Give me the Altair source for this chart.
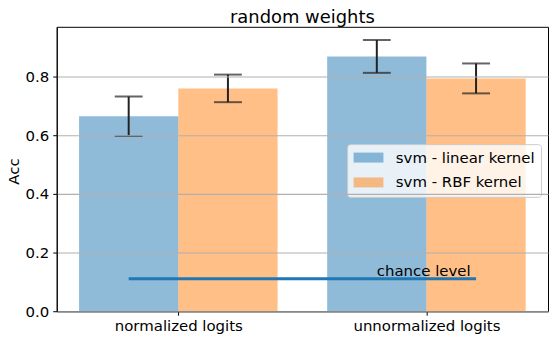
import json
import altair as alt
import pandas as pd

# ---- data ----
categories = ["normalized logits", "unnormalized logits"]
series_names = ["svm - linear kernel", "svm - RBF kernel"]
linear_acc = [0.665, 0.869]
linear_err = [0.067, 0.056]
rbf_acc = [0.760, 0.794]
rbf_err = [0.047, 0.051]
chance_level = [0.111]
chance_span = [-0.2, 1.2]
chance_text = ["chance level"]
chance_text_pos = [0.8, 0.12]
y_ticks = [0.0, 0.2, 0.4, 0.6, 0.8]
chart_title = "random weights"
y_title = "Acc"

FONT = "DejaVu Sans"
BLUE = "#1f77b4"
ORANGE = "#ff7f0e"

rows = []
for i, cat in enumerate(categories):
    rows.append({"cat": cat, "idx": i, "series": series_names[0], "sidx": 0,
                 "acc": linear_acc[i], "err": linear_err[i]})
    rows.append({"cat": cat, "idx": i, "series": series_names[1], "sidx": 1,
                 "acc": rbf_acc[i], "err": rbf_err[i]})
df = pd.DataFrame(rows)

bar_w = 0.4
base = alt.Chart(df).transform_calculate(
    x0=f"datum.idx + (datum.sidx - 1) * {bar_w}",
    x1=f"datum.idx + datum.sidx * {bar_w}",
    xc=f"datum.idx + (datum.sidx - 0.5) * {bar_w}",
    lo="datum.acc - datum.err",
    hi="datum.acc + datum.err",
)

x_scale = alt.Scale(domain=[-0.49, 1.49], nice=False, zero=False)
y_scale = alt.Scale(domain=[0, 0.97], nice=False)

label_expr = f"{json.dumps(categories)}[datum.value]"

x_axis = alt.Axis(values=[0, 1], labelExpr=label_expr, grid=False, title=None,
                  tickSize=4, labelPadding=3, labelFontSize=15, labelFont=FONT,
                  labelColor="black", domainColor="black", tickColor="black")
y_axis = alt.Axis(values=y_ticks, format=".1f", grid=True, gridColor="#b0b0b0",
                  gridWidth=1.1, tickSize=4, labelPadding=4, labelFontSize=15,
                  labelFont=FONT, labelColor="black", domainColor="black",
                  tickColor="black", title=y_title, titleFont=FONT, titleFontSize=15,
                  titleFontWeight="normal", titleColor="black", titleAngle=-90,
                  titleAlign="center", titleBaseline="middle", titleX=-43, titleY=145,
                  zindex=1)

legend = alt.Legend(
    title=None, orient="none", legendX=292, legendY=118,
    fillColor="rgba(255,255,255,0.8)", strokeColor="#cccccc", cornerRadius=3,
    padding=6, labelFontSize=15, labelFont=FONT, labelColor="black",
    symbolType="M-2,-0.667H2V0.667H-2Z", symbolSize=225, symbolOpacity=0.5,
    symbolStrokeWidth=0, symbolOffset=8, labelOffset=20, rowPadding=9,
)

bars = base.mark_bar(opacity=0.5).encode(
    x=alt.X("x0:Q", scale=x_scale, axis=x_axis),
    x2="x1:Q",
    y=alt.Y("acc:Q", scale=y_scale, axis=y_axis),
    y2=alt.datum(0),
    color=alt.Color("series:N", scale=alt.Scale(domain=series_names, range=[BLUE, ORANGE]),
                    legend=legend),
)

err_rule = base.mark_rule(color="#222222", strokeWidth=2).encode(
    x="xc:Q", y="lo:Q", y2="hi:Q",
)

caps = base.transform_fold(["lo", "hi"], as_=["end", "yv"]).mark_tick(
    orient="horizontal", size=28, thickness=2, color="#222222"
).encode(x="xc:Q", y="yv:Q")

chance_df = pd.DataFrame({"x0": [chance_span[0]], "x1": [chance_span[1]], "y": chance_level})
chance = alt.Chart(chance_df).mark_rule(color=BLUE, strokeWidth=3).encode(
    x="x0:Q", x2="x1:Q", y="y:Q",
)

text_df = pd.DataFrame({"x": [chance_text_pos[0]], "y": [chance_text_pos[1]], "t": chance_text})
chance_lbl = alt.Chart(text_df).mark_text(
    align="left", baseline="alphabetic", fontSize=15, font=FONT, color="black"
).encode(x="x:Q", y="y:Q", text="t:N")

chart = alt.layer(bars, err_rule, caps, chance, chance_lbl).properties(
    width=494,
    height=286,
    title=alt.Title(chart_title, fontSize=18, font=FONT, fontWeight="normal",
                    color="black", anchor="middle", offset=0),
    autosize=alt.AutoSizeParams(type="none"),
    padding={"left": 49, "top": 18, "right": 2, "bottom": 26},
).configure_view(stroke="black", strokeWidth=1)

chart.save("out.html", embed_options={"renderer": "svg", "actions": False})
